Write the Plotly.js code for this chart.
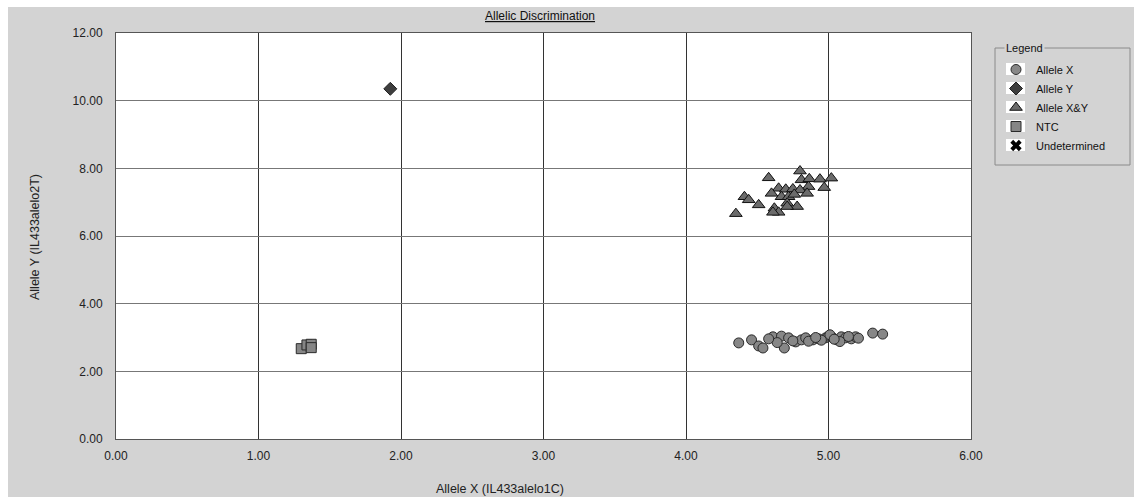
<!DOCTYPE html>
<html>
<head>
<meta charset="utf-8">
<script src="https://cdn.plot.ly/plotly-3.0.1.min.js"></script>
<style>html,body{margin:0;padding:0;background:#d3d3d3;}#chart{width:1134px;height:497px;}</style>
</head>
<body>
<div id="chart"></div>
<script>
// Allele X cluster (circles)
var alleleX_x = [4.37,4.46,4.51,4.54,4.61,4.67,4.69,4.72,4.77,4.81,4.84,4.89,4.93,4.98,5.00,5.03,5.06,5.09,5.12,5.16,5.19,5.21,5.31,5.38,4.64,4.75,4.95,5.08,4.86,4.58,5.01,5.14,4.91,5.04];
var alleleX_y = [2.84,2.93,2.75,2.69,3.02,3.04,2.69,2.99,2.87,2.93,2.99,2.93,2.96,2.99,3.04,2.99,2.93,3.02,2.99,2.96,3.02,2.98,3.13,3.10,2.85,2.90,2.92,2.88,2.89,2.96,3.08,3.03,3.00,2.95];
// Allele Y (diamond)
var alleleY_x = [1.925];
var alleleY_y = [10.35];
// Allele X&Y cluster (triangles)
var alleleXY_x = [4.80,4.58,4.81,4.865,4.94,5.02,4.86,4.97,4.65,4.70,4.75,4.80,4.60,4.67,4.72,4.76,4.85,4.41,4.44,4.51,4.71,4.78,4.62,4.65,4.61,4.35,4.71];
var alleleXY_y = [7.92,7.72,7.66,7.69,7.68,7.71,7.46,7.43,7.41,7.38,7.39,7.36,7.26,7.16,7.16,7.23,7.26,7.16,7.07,6.92,6.97,6.87,6.82,6.70,6.70,6.66,6.87];
// NTC (squares)
var ntc_x = [1.30,1.34,1.37,1.37];
var ntc_y = [2.67,2.78,2.80,2.70];
// Undetermined (none)
var undet_x = [null];
var undet_y = [null];

var xTicks = [0,1,2,3,4,5,6];
var yTicks = [0,2,4,6,8,10,12];

var FONT = 'Liberation Sans, Arial, sans-serif';

var traces = [
  {name:'Allele X', x:alleleX_x, y:alleleX_y, type:'scatter', mode:'markers',
   marker:{symbol:'circle', size:10, color:'#878787', line:{color:'#2a2a2a', width:1}}},
  {name:'Allele Y', x:alleleY_x, y:alleleY_y, type:'scatter', mode:'markers',
   marker:{symbol:'diamond', size:10, color:'#3e3e3e', line:{color:'#222', width:1}}},
  {name:'Allele X&Y', x:alleleXY_x, y:alleleXY_y, type:'scatter', mode:'markers',
   marker:{symbol:'triangle-up', size:11, color:'#6b6b6b', line:{color:'#111', width:1}}},
  {name:'NTC', x:ntc_x, y:ntc_y, type:'scatter', mode:'markers',
   marker:{symbol:'square', size:10, color:'#868686', line:{color:'#2a2a2a', width:1}}},
  {name:'Undetermined', x:undet_x, y:undet_y, type:'scatter', mode:'markers',
   marker:{symbol:'x', size:10, color:'#000', line:{width:0}}}
];

// pixel->paper helpers (plot area: x 116..971, y 33..439)
var L=116, R=971, T=33, B=439;
function px(x){return (x-L)/(R-L);}
function py(y){return (B-y)/(B-T);}

var shapes = [
  // white strips at top and left edge
  {type:'rect', xref:'paper', yref:'paper', x0:px(0), x1:px(1134), y0:py(7), y1:py(0), fillcolor:'#ffffff', line:{width:0}, layer:'below'},
  {type:'rect', xref:'paper', yref:'paper', x0:px(0), x1:px(8), y0:py(497), y1:py(0), fillcolor:'#ffffff', line:{width:0}, layer:'below'},
  // legend group box
  {type:'rect', xref:'paper', yref:'paper', x0:px(995), x1:px(1130), y0:py(165), y1:py(48), fillcolor:'rgba(0,0,0,0)', line:{color:'#8a8a8a', width:1}, layer:'above'}
];
// white swatches behind legend icons
for (var i = 0; i < traces.length; i++) {
  var cy = 69 + 19 * i;
  shapes.push({type:'rect', xref:'paper', yref:'paper', x0:px(1006), x1:px(1025), y0:py(cy+6), y1:py(cy-6), fillcolor:'#ffffff', line:{width:0}, layer:'above'});
}

var layout = {
  width:1134, height:497,
  margin:{l:L, r:1134-R, t:T, b:497-B, pad:0},
  paper_bgcolor:'#d3d3d3', plot_bgcolor:'#ffffff',
  font:{family:FONT, size:11, color:'#222'},
  showlegend:true,
  legend:{x:px(996), y:py(55), xanchor:'left', yanchor:'top', bgcolor:'rgba(0,0,0,0)',
    borderwidth:0, font:{family:FONT, size:11, color:'#111'}, itemwidth:30, tracegroupgap:0},
  xaxis:{range:[0,6], tickvals:xTicks, tickformat:'.2f', showgrid:true, gridcolor:'#333', gridwidth:1,
    zeroline:false, showline:true, linecolor:'#555', linewidth:1, mirror:true, ticks:'', ticklabelstandoff:6,
    tickfont:{family:FONT, size:12, color:'#222'}, fixedrange:true},
  yaxis:{range:[0,12], tickvals:yTicks, tickformat:'.2f', showgrid:true, gridcolor:'#777', gridwidth:1,
    zeroline:false, showline:true, linecolor:'#555', linewidth:1, mirror:true, ticks:'', ticklabelstandoff:10,
    tickfont:{family:FONT, size:12, color:'#222'}, fixedrange:true},
  shapes: shapes,
  annotations:[
    {text:'<u>Allelic Discrimination</u>', xref:'paper', yref:'paper', x:px(540), y:py(16), showarrow:false, xanchor:'center', yanchor:'middle', font:{family:FONT, size:12, color:'#111'}},
    {text:'Allele X (IL433alelo1C)', xref:'paper', yref:'paper', x:px(500), y:py(489), showarrow:false, xanchor:'center', yanchor:'middle', font:{family:FONT, size:12.5, color:'#222'}},
    {text:'Allele Y (IL433alelo2T)', xref:'paper', yref:'paper', x:px(35), y:py(237), showarrow:false, textangle:-90, xanchor:'center', yanchor:'middle', font:{family:FONT, size:12.5, color:'#222'}},
    {text:'Legend', xref:'paper', yref:'paper', x:px(1004), y:py(48), showarrow:false, xanchor:'left', yanchor:'middle', bgcolor:'#d3d3d3', borderpad:1, font:{family:FONT, size:11, color:'#111'}}
  ]
};

Plotly.newPlot('chart', traces, layout, {displayModeBar:false, staticPlot:true});
</script>
</body>
</html>
